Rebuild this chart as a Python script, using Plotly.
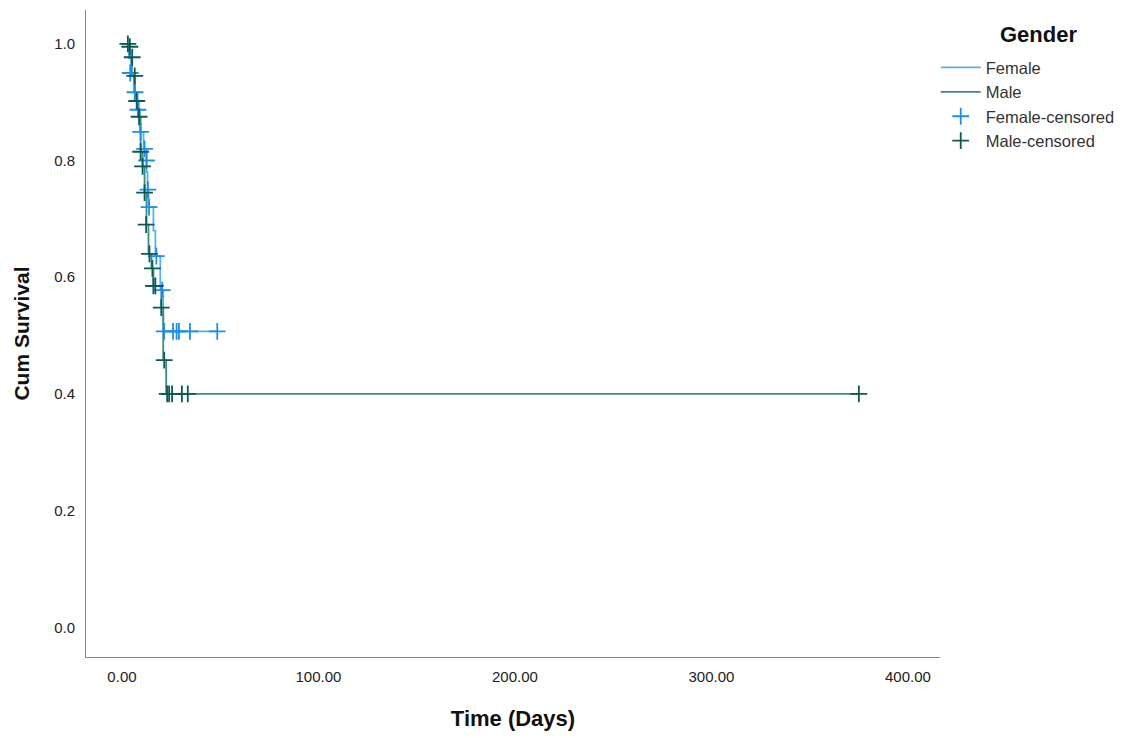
import plotly.graph_objects as go

# Kaplan-Meier step data (time in days, cumulative survival)
female_t = [0, 3.5, 4.6, 6.0, 8.0, 9.2, 11.0, 12.5, 13.0, 13.5, 16.0, 17.0, 19.5, 21.0, 48.5]
female_s = [1.0, 0.975, 0.950, 0.917, 0.887, 0.849, 0.820, 0.780, 0.750, 0.720, 0.680, 0.636, 0.578, 0.507, 0.507]

male_t = [0, 4.0, 5.0, 6.5, 8.5, 9.5, 10.5, 11.5, 12.5, 13.5, 15.0, 16.0, 20.0, 21.0, 22.5, 375.0]
male_s = [1.0, 0.977, 0.945, 0.902, 0.875, 0.815, 0.790, 0.745, 0.690, 0.640, 0.615, 0.585, 0.548, 0.458, 0.400, 0.400]

# Censored observations
female_cens_t = [4.2, 6.6, 8.1, 9.5, 11.5, 12.5, 13.2, 13.8, 17.5, 20.5, 21.5, 26.0, 27.8, 29.0, 34.6, 48.5]
female_cens_s = [0.950, 0.917, 0.887, 0.849, 0.820, 0.800, 0.750, 0.720, 0.636, 0.578, 0.507, 0.507, 0.507, 0.507, 0.507, 0.507]

male_cens_t = [3.0, 4.0, 5.2, 6.5, 7.5, 8.7, 9.5, 10.5, 11.5, 12.3, 14.0, 15.5, 16.0, 17.0, 20.0, 21.5, 23.0, 24.0, 25.5, 30.5, 33.5, 375.0]
male_cens_s = [1.0, 0.995, 0.977, 0.945, 0.902, 0.875, 0.815, 0.790, 0.745, 0.690, 0.640, 0.615, 0.585, 0.585, 0.548, 0.458, 0.400, 0.400, 0.400, 0.400, 0.400, 0.400]

x_ticks = [0, 100, 200, 300, 400]
y_ticks = [0.0, 0.2, 0.4, 0.6, 0.8, 1.0]

female_line = "#5AB0EA"
male_line = "#3C8A84"
female_mark = "#1E8FE8"
male_mark = "#0B5A55"

fig = go.Figure()
fig.add_trace(go.Scatter(x=female_t, y=female_s, mode="lines", line_shape="hv",
                         line=dict(color=female_line, width=1.8), name="Female"))
fig.add_trace(go.Scatter(x=male_t, y=male_s, mode="lines", line_shape="hv",
                         line=dict(color=male_line, width=1.8), name="Male"))
fig.add_trace(go.Scatter(x=female_cens_t, y=female_cens_s, mode="markers",
                         marker=dict(symbol="cross-thin", size=12, line=dict(color=female_mark, width=1.8)),
                         name="Female-censored"))
fig.add_trace(go.Scatter(x=male_cens_t, y=male_cens_s, mode="markers",
                         marker=dict(symbol="cross-thin", size=12, line=dict(color=male_mark, width=1.8)),
                         name="Male-censored"))

font_family = "Liberation Sans, Arial, sans-serif"
fig.update_layout(
    width=1143, height=738,
    margin=dict(l=78, r=211, t=2, b=89),
    paper_bgcolor="white", plot_bgcolor="white",
    font=dict(family=font_family, color="#222222", size=15),
    xaxis=dict(range=[-18.3, 416.3], tickvals=x_ticks,
               ticktext=[f"{v:.2f}" for v in x_ticks],
               showgrid=False, zeroline=False, showline=True, linecolor="#888888", linewidth=1,
               ticks="", ticklen=0, ticklabelstandoff=6, tickfont=dict(size=15, color="#222222"),
               title=dict(text="<b>Time (Days)</b>", font=dict(size=22, color="#111111"), standoff=26)),
    yaxis=dict(range=[-0.051, 1.058], tickvals=y_ticks,
               ticktext=[f"{v:.1f}" for v in y_ticks],
               showgrid=False, zeroline=False, showline=True, linecolor="#888888", linewidth=1,
               ticks="", ticklen=0, ticklabelstandoff=7, tickfont=dict(size=15, color="#222222"),
               title=dict(text="<b>Cum Survival</b>", font=dict(size=21, color="#111111"), standoff=18)),
    legend=dict(x=0.995, xanchor="left", y=0.938, yanchor="top",
                font=dict(size=16.5, color="#333333"), tracegroupgap=0, itemwidth=40,
                bgcolor="rgba(0,0,0,0)"),
    showlegend=True,
    annotations=[dict(text="<b>Gender</b>", x=1.115, xref="paper", y=0.985, yref="paper",
                      xanchor="center", yanchor="top", showarrow=False,
                      font=dict(size=22, color="#111111"))],
)

fig.write_html("out.html")
